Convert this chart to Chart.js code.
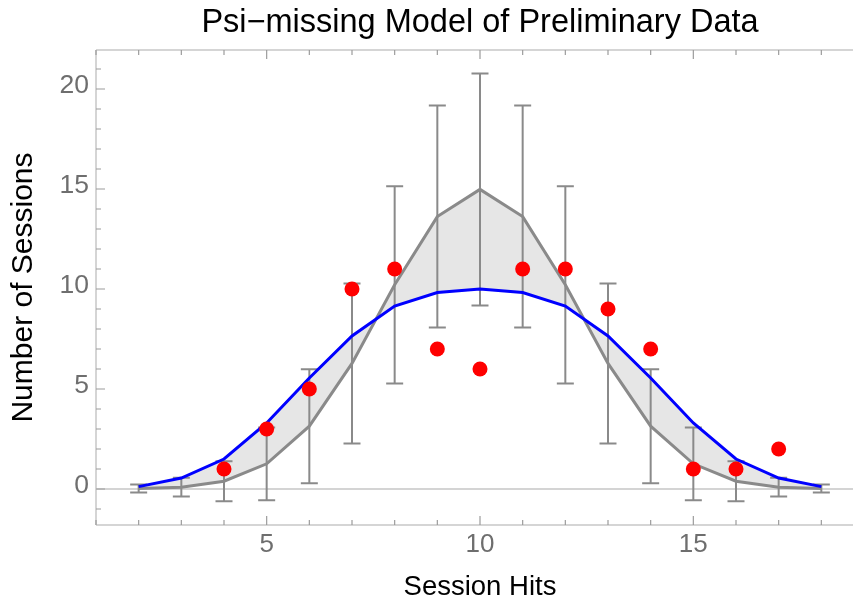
<!DOCTYPE html>
<html>
<head>
<meta charset="utf-8">
<script src="https://cdn.jsdelivr.net/npm/chart.js@4"></script>
<style>
  html, body { margin: 0; padding: 0; background: #fff; overflow: hidden; }
  #wrap { width: 880px; height: 601px; }
</style>
</head>
<body>
<div id="wrap"><canvas id="chart" width="880" height="601"></canvas></div>
<script>
// Data
const sessionHits = [2, 3, 4, 5, 6, 7, 8, 9, 10, 11, 12, 13, 14, 15, 16, 17, 18];
const modelNarrow = [0.02, 0.09, 0.39, 1.26, 3.14, 6.28, 10.21, 13.62, 14.98, 13.62, 10.21, 6.28, 3.14, 1.26, 0.39, 0.09, 0.02];
const modelError = [0.2, 0.47, 1.0, 1.82, 2.85, 4.0, 4.93, 5.55, 5.8, 5.55, 4.93, 4.0, 2.85, 1.82, 1.0, 0.47, 0.2];
const modelWide = [0.12, 0.55, 1.5, 3.3, 5.55, 7.65, 9.15, 9.82, 10.0, 9.82, 9.15, 7.65, 5.55, 3.3, 1.5, 0.55, 0.12];
const observedHits = [4, 5, 6, 7, 8, 9, 10, 11, 12, 13, 14, 15, 16, 17];
const observedSessions = [1, 3, 5, 10, 11, 7, 6, 11, 11, 9, 7, 1, 1, 2];
const xTickLabels = [5, 10, 15];
const yTickLabels = [0, 5, 10, 15, 20];

const FONT = '"Liberation Sans", Arial, Helvetica, sans-serif';
const GRAY = '#8a8a8a';

function pts(xs, ys) { return xs.map((x, i) => ({ x: x, y: ys[i] })); }

// frame, ticks, zero line and error bars
const framePlugin = {
  id: 'frame',
  beforeDatasetsDraw(chart) {
    const { ctx, chartArea: a, scales: { y } } = chart;
    ctx.save();
    // zero line
    ctx.strokeStyle = '#c6c6c6';
    ctx.lineWidth = 1.5;
    ctx.beginPath();
    ctx.moveTo(a.left, y.getPixelForValue(0));
    ctx.lineTo(a.right, y.getPixelForValue(0));
    ctx.stroke();
    ctx.restore();
  },
  beforeDatasetDraw(chart, args) {
    if (args.index !== 2) return;
    const { ctx, scales: { x, y } } = chart;
    ctx.save();
    ctx.strokeStyle = GRAY;
    ctx.lineWidth = 2;
    sessionHits.forEach((h, i) => {
      const px = x.getPixelForValue(h);
      const top = y.getPixelForValue(modelNarrow[i] + modelError[i]);
      const bot = y.getPixelForValue(modelNarrow[i] - modelError[i]);
      ctx.beginPath();
      ctx.moveTo(px, top); ctx.lineTo(px, bot);
      ctx.moveTo(px - 8.5, top); ctx.lineTo(px + 8.5, top);
      ctx.moveTo(px - 8.5, bot); ctx.lineTo(px + 8.5, bot);
      ctx.stroke();
    });
    ctx.restore();
  },
  afterDraw(chart) {
    const { ctx, chartArea: a, scales: { x, y } } = chart;
    ctx.save();
    ctx.strokeStyle = '#c8c8c8';
    ctx.lineWidth = 1.5;
    ctx.beginPath();
    ctx.moveTo(a.left, a.top); ctx.lineTo(a.right, a.top);
    ctx.moveTo(a.left, a.top); ctx.lineTo(a.left, a.bottom);
    ctx.moveTo(a.left, a.bottom); ctx.lineTo(a.right, a.bottom);
    ctx.moveTo(a.right, a.top); ctx.lineTo(a.right, a.bottom);
    ctx.stroke();

    ctx.strokeStyle = '#9c9c9c';
    ctx.lineWidth = 1.2;
    ctx.beginPath();
    for (let v = Math.ceil(x.min); v <= x.max; v++) {
      const px = x.getPixelForValue(v);
      const len = v % 5 === 0 ? 9 : 5;
      ctx.moveTo(px, a.bottom); ctx.lineTo(px, a.bottom - len);
      ctx.moveTo(px, a.top); ctx.lineTo(px, a.top + len);
    }
    for (let v = Math.ceil(y.min); v <= y.max; v++) {
      const py = y.getPixelForValue(v);
      const len = v % 5 === 0 ? 9 : 5;
      ctx.moveTo(a.left, py); ctx.lineTo(a.left + len, py);
    }
    ctx.stroke();
    ctx.restore();
  }
};

new Chart(document.getElementById('chart'), {
  type: 'line',
  data: {
    datasets: [
      {
        label: 'Observed',
        data: pts(observedHits, observedSessions),
        showLine: false,
        pointRadius: 7.5,
        pointBackgroundColor: '#ff0000',
        pointBorderWidth: 0,
        borderColor: '#ff0000'
      },
      {
        label: 'Wide model',
        data: pts(sessionHits, modelWide),
        borderColor: '#0000ff',
        borderWidth: 3,
        pointRadius: 0,
        tension: 0,
        fill: false
      },
      {
        label: 'Binomial model',
        data: pts(sessionHits, modelNarrow),
        borderColor: GRAY,
        borderWidth: 3,
        pointRadius: 0,
        tension: 0,
        fill: 1,
        backgroundColor: '#e6e6e6'
      }
    ]
  },
  options: {
    responsive: false,
    devicePixelRatio: 1,
    animation: false,
    layout: { padding: { left: 0, right: 16, top: 0, bottom: 0 } },
    plugins: {
      legend: { display: false },
      tooltip: { enabled: false },
      title: {
        display: true,
        fullSize: false,
        text: 'Psi\u2212missing Model of Preliminary Data',
        color: '#000',
        font: { family: FONT, size: 32.5, weight: 'normal', lineHeight: 1.2 },
        padding: { top: 3.5, bottom: 7.5 }
      }
    },
    scales: {
      x: {
        type: 'linear',
        min: 1,
        max: 19,
        grid: { display: false, drawTicks: false },
        border: { display: false },
        afterBuildTicks: s => { s.ticks = xTickLabels.map(v => ({ value: v })); },
        afterFit: s => { s.height = 76; },
        ticks: { color: '#6e6e6e', padding: 4, font: { family: FONT, size: 26 } },
        title: {
          display: true,
          text: 'Session Hits',
          color: '#000',
          padding: 0,
          font: { family: FONT, size: 27.5, lineHeight: 1 }
        }
      },
      y: {
        type: 'linear',
        min: -1.8,
        max: 21.95,
        grid: { display: false, drawTicks: false },
        border: { display: false },
        afterBuildTicks: s => { s.ticks = yTickLabels.map(v => ({ value: v })); },
        afterFit: s => { s.width = 96; },
        ticks: { color: '#6e6e6e', padding: 7, labelOffset: -3, font: { family: FONT, size: 26.5 } },
        title: {
          display: true,
          text: 'Number of Sessions',
          color: '#000',
          padding: { top: 9, bottom: 0 },
          font: { family: FONT, size: 30, lineHeight: 1 }
        }
      }
    }
  },
  plugins: [framePlugin]
});
</script>
</body>
</html>
